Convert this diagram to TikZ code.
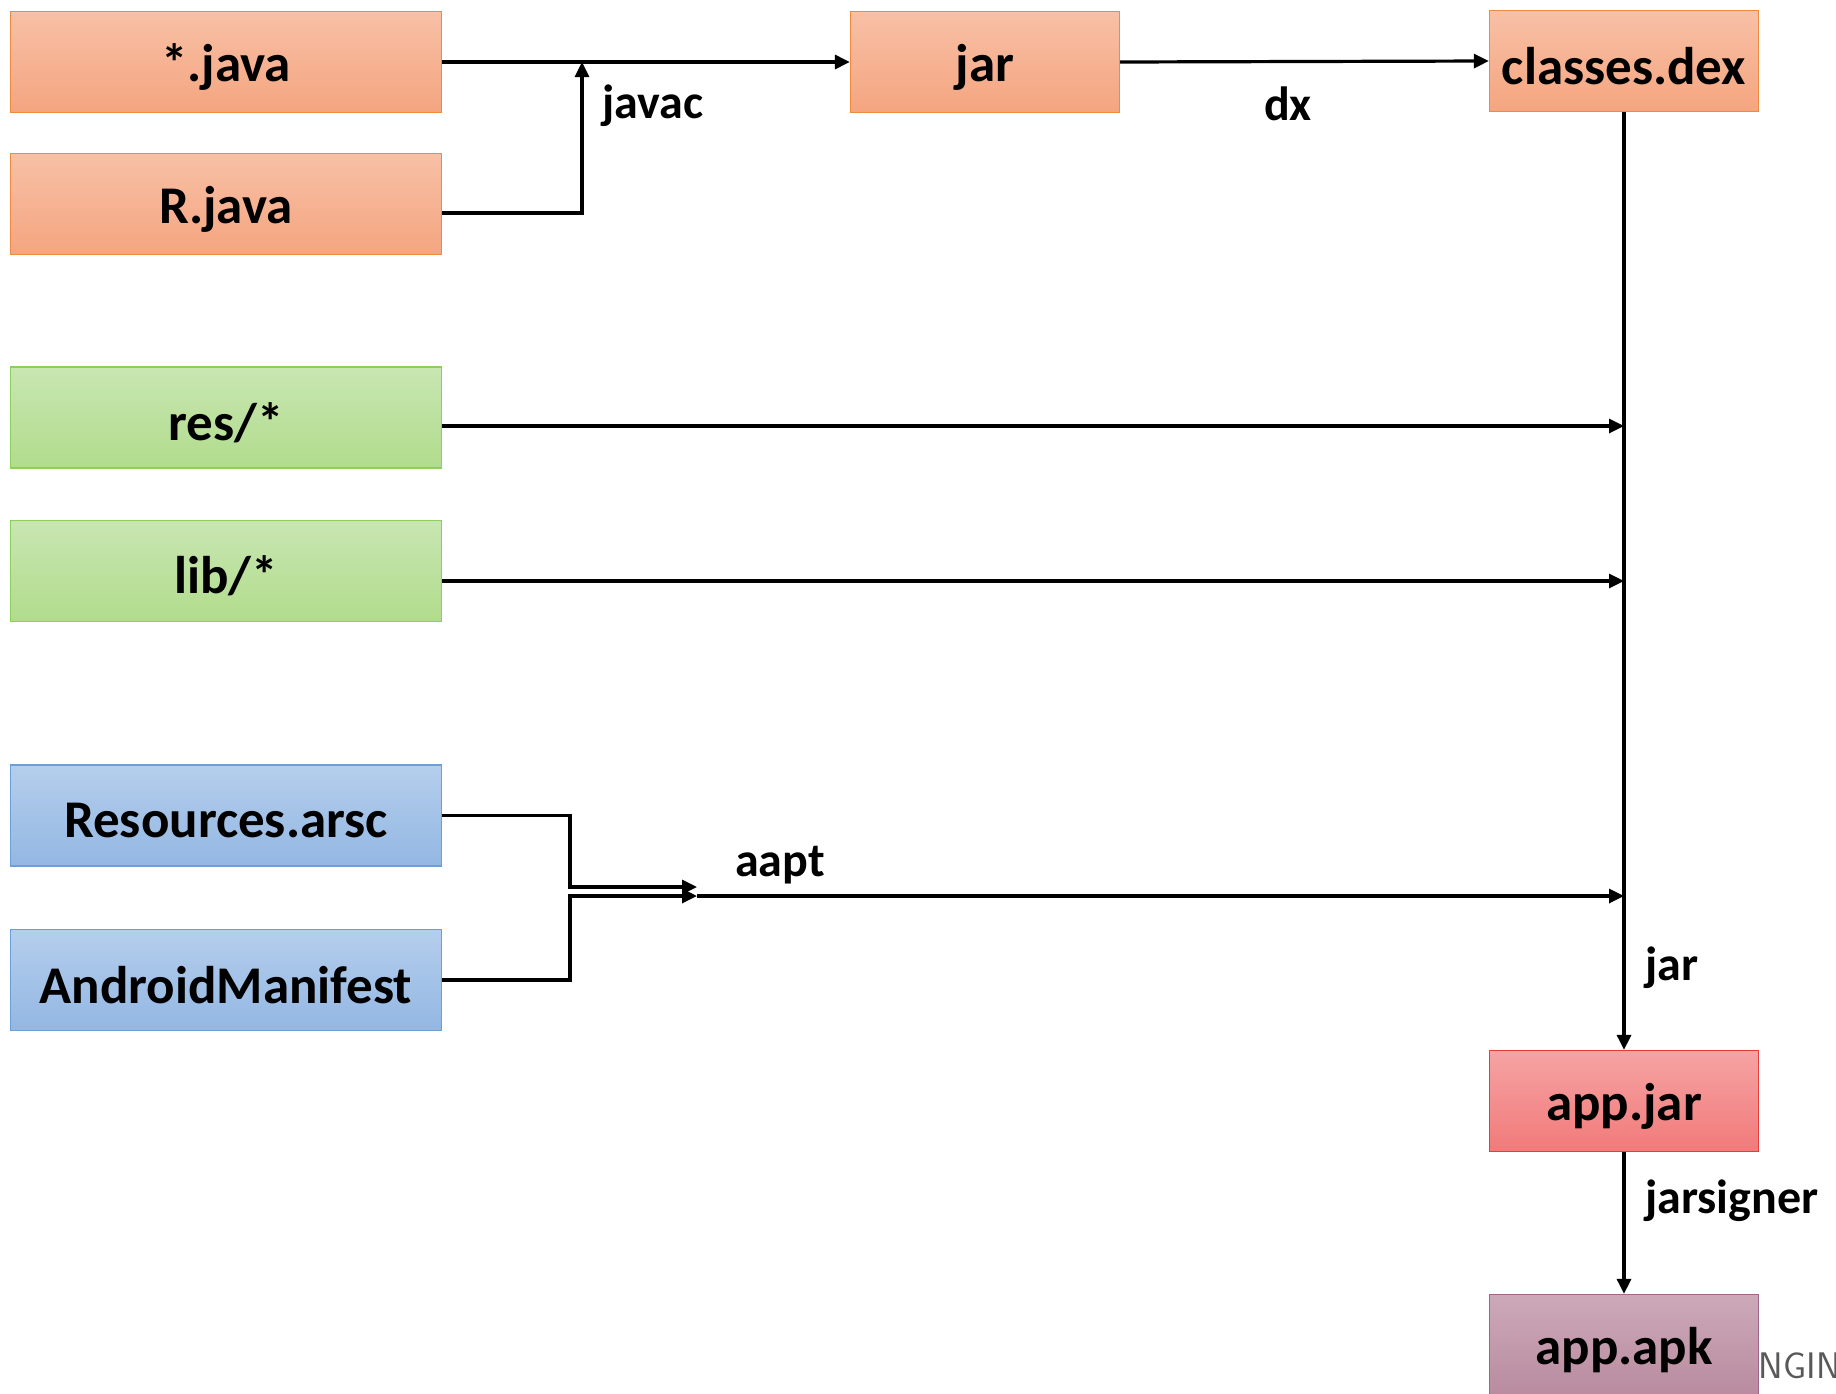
\documentclass[tikz,border=0pt]{standalone}
\usepackage{fontspec}
\setmainfont{Carlito}
\usetikzlibrary{arrows.meta}
\definecolor{orTop}{HTML}{F8C0A6}
\definecolor{orBot}{HTML}{F4A57F}
\definecolor{orLine}{HTML}{F08A3E}
\definecolor{grTop}{HTML}{C8E6B2}
\definecolor{grBot}{HTML}{B1DC8C}
\definecolor{grLine}{HTML}{8CCF5A}
\definecolor{blTop}{HTML}{B5CEEC}
\definecolor{blBot}{HTML}{93B7E3}
\definecolor{blLine}{HTML}{6A9FDA}
\definecolor{rdTop}{HTML}{F5A3A3}
\definecolor{rdBot}{HTML}{F27A7A}
\definecolor{rdLine}{HTML}{E83A3A}
\definecolor{puTop}{HTML}{CCA9B8}
\definecolor{puBot}{HTML}{B98BA0}
\definecolor{puLine}{HTML}{A0668A}
\newcommand{\boxtxt}[1]{\raisebox{-5pt}[\height][\depth]{#1}}
\tikzset{
  box/.style={draw, line width=1.3pt, minimum height=101pt, inner sep=0pt,
    font=\fontsize{53}{62}\selectfont\bfseries},
  wide/.style={box, minimum width=431pt},
  narrow/.style={box, minimum width=269pt},
  orbox/.style={top color=orTop, bottom color=orBot, draw=orLine},
  grbox/.style={top color=grTop, bottom color=grBot, draw=grLine},
  blbox/.style={top color=blTop, bottom color=blBot, draw=blLine},
  rdbox/.style={top color=rdTop, bottom color=rdBot, draw=rdLine},
  pubox/.style={top color=puTop, bottom color=puBot, draw=puLine},
  conn/.style={line width=3.2pt, -{Triangle[length=15pt,width=14pt]}},
  lbl/.style={font=\fontsize{48}{56}\selectfont\bfseries, inner sep=0pt}
}
\begin{document}
\begin{tikzpicture}[x=1pt,y=-1pt]
\useasboundingbox (0,0) rectangle (1836,1393);
% watermark
\node[anchor=west, text=black!65, font=\sffamily\fontsize{37}{40}\selectfont, inner sep=0pt] (wm) at (1738,1366) {ENGINE};
% boxes
\node[wide, orbox] (sj) at (226,62) {\boxtxt{*.java}};
\node[wide, orbox] (rj) at (226,204) {\boxtxt{R.java}};
\node[narrow, orbox] (jar) at (985,62) {\boxtxt{jar}};
\node[narrow, orbox] (dex) at (1624,61) {\boxtxt{classes.dex}};
\node[wide, grbox] (res) at (226,417.5) {\boxtxt{res/*}};
\node[wide, grbox] (lib) at (226,571) {\boxtxt{lib/*}};
\node[wide, blbox] (arsc) at (226,815.5) {\boxtxt{Resources.arsc}};
\node[wide, blbox] (man) at (226,980) {\boxtxt{AndroidManifest}};
\node[narrow, rdbox] (appjar) at (1624,1101) {\boxtxt{app.jar}};
\node[narrow, pubox] (apk) at (1624,1345) {\boxtxt{app.apk}};
% coordinates
\coordinate (jv) at (582,62);
\coordinate (mres) at (1624,426);
\coordinate (mlib) at (1624,581);
\coordinate (a1) at (697,887);
\coordinate (a2) at (697,896);
\coordinate (maapt) at (1624,896);
% connectors
\draw[conn] (sj.east) -- (jar.west);
\draw[conn] ([yshift=-9pt]rj.east) -| (jv);
\draw[conn] (jar.east) -- (dex.west);
\draw[conn] (dex.south) -- (appjar.north);
\draw[conn] ([yshift=-8.5pt]res.east) -- (mres);
\draw[conn] ([yshift=-10pt]lib.east) -- (mlib);
\draw[conn] (arsc.east) -| (570,887) -- (a1);
\draw[conn] (man.east) -| (570,896) -- (a2);
\draw[conn] (a2) -- (maapt);
\draw[conn] (appjar.south) -- (apk.north);
% labels
\node[lbl, anchor=west] (lj) at (602,106) {javac};
\node[lbl] (ldx) at (1288,104) {dx};
\node[lbl, anchor=west] (laapt) at (735,865) {aapt};
\node[lbl, anchor=west] (ljar) at (1645,968) {jar};
\node[lbl, anchor=west] (ljs) at (1645,1201) {jarsigner};
\end{tikzpicture}
\end{document}
